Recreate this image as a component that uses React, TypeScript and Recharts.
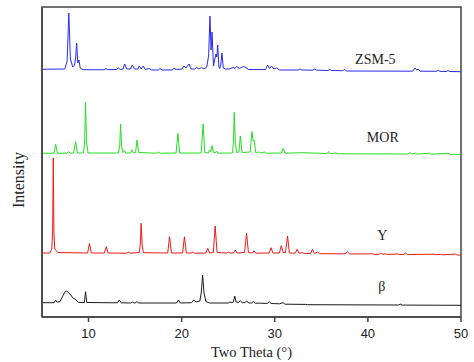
import React from "react";
import {
  LineChart,
  Line,
  XAxis,
  YAxis,
  ReferenceArea,
  ReferenceDot,
} from "recharts";

// two theta (deg), intensity (a.u., offset per sample)
const zsm5: [number, number][] = [
  [5, 247.7], [7.45, 248], [7.7, 256], [7.88, 304], [8.05, 258], [8.3, 250], [8.5, 252], [8.62, 260], [8.72, 274], [8.84, 254], [8.97, 257], [9.1, 249], [9.4, 247.3],
  [11.7, 247.3], [11.87, 248.5], [12.05, 247.3],
  [13.0, 247.5], [13.2, 249], [13.4, 247.5], [13.7, 248], [13.88, 253], [14.1, 248], [14.5, 248], [14.7, 252], [14.95, 248], [15.3, 248], [15.45, 251], [15.65, 248], [15.88, 251], [16.1, 247.5], [16.5, 248.5], [16.8, 247], [17.5, 247], [17.67, 248.5], [17.9, 247],
  [19.0, 247], [19.18, 249], [19.4, 247.5], [20.05, 248], [20.25, 251], [20.45, 249], [20.79, 253], [21.0, 248], [21.4, 248], [21.6, 249.5], [21.85, 248], [22.15, 249.5], [22.4, 248], [22.7, 250], [22.9, 262], [23.04, 301], [23.16, 267], [23.26, 285], [23.42, 251], [23.56, 258], [23.69, 263], [23.78, 260], [23.87, 272], [24.0, 250], [24.08, 248.5], [24.2, 252], [24.33, 264], [24.47, 249], [24.7, 248], [25.1, 248], [25.55, 249.5], [25.73, 248.5], [25.9, 250.5], [26.2, 248.5], [26.62, 250.5], [26.9, 249.5], [27.2, 247.5],
  [29.0, 247.5], [29.24, 252], [29.45, 248.5], [29.67, 251], [29.9, 248], [30.2, 249], [30.5, 247],
  [32.5, 247], [32.7, 248], [32.9, 247], [34.1, 246.8], [34.3, 248], [34.5, 246.8], [35.7, 246.5], [35.9, 247.5], [36.1, 246.5], [37.3, 246.3], [37.5, 247.3], [37.7, 246],
  [44.8, 245.8], [45.06, 249], [45.25, 247], [45.4, 248], [45.6, 245.8], [47.4, 245.7], [47.56, 246.8], [47.75, 245.6], [48.45, 245.5], [48.6, 246.5], [48.8, 245.5], [50, 245.3],
];

const mor: [number, number][] = [
  [5, 163.7], [6.3, 163.8], [6.47, 172.7], [6.65, 163.8], [7.7, 163.8], [7.86, 165.5], [8.0, 163.8], [8.4, 164], [8.61, 175.3], [8.8, 164], [9.45, 164], [9.58, 175], [9.68, 214.7], [9.78, 175], [9.95, 164],
  [13.2, 164], [13.35, 172], [13.44, 193], [13.55, 170], [13.7, 164.5], [13.87, 166.3], [14.0, 164], [14.5, 164], [14.65, 167], [14.8, 164], [15.05, 164.5], [15.2, 177], [15.38, 164.5],
  [17.3, 163.8], [17.5, 164.8], [17.7, 163.8], [19.4, 164], [19.6, 183.7], [19.78, 164],
  [22.1, 164], [22.3, 193], [22.48, 164.5], [22.85, 164], [23.0, 167], [23.12, 165], [23.26, 171.3], [23.42, 164.5], [23.6, 164], [23.75, 166], [23.9, 163.8],
  [25.45, 164], [25.56, 175], [25.65, 204.7], [25.76, 175], [25.9, 164.5], [26.15, 165], [26.3, 181], [26.48, 164.5], [27.35, 165], [27.55, 185.3], [27.68, 176], [27.78, 177], [27.95, 164.5], [28.3, 165], [28.5, 164], [28.9, 165], [29.1, 163.8],
  [30.7, 164], [30.9, 168.7], [31.1, 163.8], [32.9, 164.3], [35.6, 163.5], [35.8, 165.3], [36.0, 163.5], [36.55, 164], [36.8, 163.2],
  [44.3, 163], [44.5, 164.5], [44.7, 163], [45.1, 163.8], [45.3, 162.9], [46.6, 163.8], [46.8, 162.8], [48.6, 163.7], [48.8, 162.7], [50, 162.7],
];

const zeoliteY: [number, number][] = [
  [5, 64], [5.85, 64], [6.05, 68], [6.14, 85], [6.21, 159], [6.28, 85], [6.37, 68], [6.7, 64.5],
  [9.9, 64], [10.1, 73.7], [10.3, 64], [11.7, 64], [11.9, 70.3], [12.1, 64], [14.1, 63.8], [14.3, 64.8], [14.5, 63.8],
  [15.45, 64.5], [15.55, 72], [15.65, 93.7], [15.77, 71], [15.9, 64.3],
  [18.5, 64], [18.7, 80.3], [18.9, 64], [20.1, 64], [20.3, 80.3], [20.5, 64], [21.0, 64], [21.2, 64.8], [21.4, 63.8],
  [22.6, 64], [22.8, 68.7], [23.0, 64], [23.4, 64.5], [23.6, 91], [23.8, 64.5],
  [24.8, 64], [25.0, 64.8], [25.2, 64], [25.55, 64], [25.75, 67], [25.95, 64], [26.75, 64.5], [26.97, 83.7], [27.17, 64.5], [27.6, 64], [27.76, 66.3], [27.95, 63.8],
  [29.4, 64], [29.6, 69.3], [29.8, 64], [30.5, 64], [30.7, 71.3], [30.9, 64.5], [31.15, 64.5], [31.37, 81], [31.57, 64],
  [32.2, 63.8], [32.4, 67.7], [32.6, 63.8], [33.0, 64.3], [33.2, 63.5], [33.85, 63.5], [34.05, 67.7], [34.25, 63.5], [34.6, 65], [34.8, 63.3],
  [37.55, 63.2], [37.8, 65.3], [38.05, 63],
  [40.5, 63.2], [40.7, 62.7], [41.2, 62.7], [41.4, 64], [41.6, 62.6], [41.9, 63.2], [42.1, 62.5], [43.2, 63], [43.4, 62.5], [43.85, 62.5], [44.05, 64], [44.25, 62.4], [47.1, 62.8], [47.3, 62.3], [47.8, 62.6], [48, 62.2], [49.4, 62.8], [49.6, 62], [50, 62],
];

const beta: [number, number][] = [
  [5, 14.3], [6.3, 14.3], [6.47, 17], [6.62, 14.8], [6.93, 15.3], [7.29, 22], [7.5, 25.5], [7.65, 26], [8.0, 23], [8.36, 18.7], [8.54, 18], [8.9, 14.7], [9.55, 14.5], [9.68, 25.3], [9.8, 14.5],
  [13.1, 14.2], [13.3, 17], [13.5, 14.2], [14.5, 14], [14.7, 15], [14.9, 14], [15.0, 14], [15.2, 15.3], [15.4, 14],
  [19.45, 14], [19.65, 17], [19.85, 14], [21.05, 14.3], [21.3, 17], [21.55, 15], [21.95, 16], [22.1, 24], [22.25, 42], [22.4, 24], [22.6, 15.5], [23.0, 14],
  [25.0, 14], [25.2, 15], [25.4, 14.3], [25.55, 15], [25.7, 21], [25.85, 15], [26.1, 14.5], [26.3, 16.3], [26.5, 14.2], [26.8, 14.5], [27.0, 16], [27.2, 14], [27.5, 14], [27.7, 15.3], [27.9, 13.8], [28.5, 13.8], [29.2, 13.6], [29.4, 15.3], [29.6, 13.5], [30.5, 13.2], [30.9, 14.3], [31.1, 12.8],
  [33.3, 12.6], [33.5, 12.3], [43.3, 12], [43.5, 12.8], [43.7, 11.9], [50, 11.7],
];

const xTicks = [10, 20, 30, 40, 50];
const yTicks = [0, 22, 44, 66, 88, 110, 132, 154, 176, 198, 220, 242, 264, 286, 308];

// sample name, label position (two theta, intensity)
const sampleLabels: [string, number, number][] = [
  ["ZSM-5", 40.8, 257.5],
  ["MOR", 41.6, 179.5],
  ["Y", 41.55, 82],
  ["β", 41.5, 31],
];

const series = [
  { name: "ZSM-5", points: zsm5, color: "#2a2af0" },
  { name: "MOR", points: mor, color: "#22e022" },
  { name: "Y", points: zeoliteY, color: "#f01818" },
  { name: "β", points: beta, color: "#1a1a1a" },
];

const serif = "'Liberation Serif', 'Times New Roman', serif";
const sans = "'Liberation Sans', Arial, sans-serif";
const axisColor = "#444";

export default function App() {
  return (
    <div style={{ position: "absolute", left: 0, top: 0, width: 474, height: 362, background: "#fff" }}>
      <LineChart width={474} height={362} margin={{ top: 7, right: 13, bottom: 0, left: 42 }}>
        <XAxis
          dataKey="t"
          type="number"
          domain={[5, 50]}
          ticks={xTicks}
          allowDataOverflow
          height={45}
          tickSize={5}
          tickMargin={7}
          stroke={axisColor}
          strokeWidth={1.5}
          tick={{ fontSize: 13, fontFamily: sans, fill: "#222" }}
          label={{
            value: "Two Theta (°)",
            position: "insideBottom",
            offset: 5,
            fontSize: 14.5,
            fontFamily: serif,
            fill: "#222",
          }}
        />
        <YAxis
          type="number"
          domain={[0, 310]}
          ticks={yTicks}
          width={30}
          tick={false}
          tickSize={3}
          mirror
          stroke={axisColor}
          strokeWidth={1.5}
          label={{
            content: () => (
              <text
                x={24}
                y={180}
                transform="rotate(-90 24 180)"
                textAnchor="middle"
                fontFamily={serif}
                fontSize={16}
                fill="#222"
              >
                Intensity
              </text>
            ),
          }}
        />
        <ReferenceArea x1={5} x2={50} y1={0} y2={310} fill="none" stroke={axisColor} strokeWidth={1.5} />
        {series.map((s) => (
          <Line
            key={s.name}
            data={s.points.map(([t, i]) => ({ t, i }))}
            dataKey="i"
            type="linear"
            stroke={s.color}
            strokeWidth={1}
            dot={false}
            isAnimationActive={false}
          />
        ))}
        {sampleLabels.map(([name, t, i]) => (
          <ReferenceDot
            key={name}
            x={t}
            y={i}
            r={0}
            fill="none"
            stroke="none"
            label={{ value: name, position: "center", fontSize: 14, fontFamily: serif, fill: "#222", stroke: "none" }}
          />
        ))}
      </LineChart>
    </div>
  );
}
